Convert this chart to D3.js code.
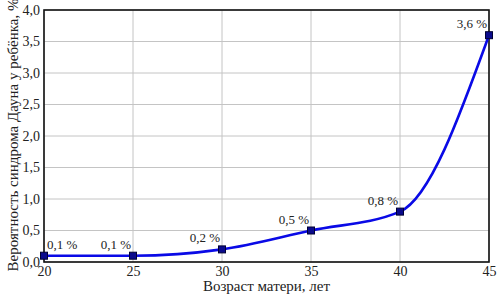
<!DOCTYPE html>
<html>
<head>
<meta charset="UTF-8" />
<script src="https://d3js.org/d3.v7.min.js"></script>
<style>
  body { margin: 0; background: #fff; }
</style>
</head>
<body>
<svg id="chart" width="500" height="297"></svg>
<script>
// data
const ages = [20, 25, 30, 35, 40, 45]
const risk = [0.1, 0.1, 0.2, 0.5, 0.8, 3.6]
const xTicks = [20, 25, 30, 35, 40, 45]
const yTicks = [0, 0.5, 1, 1.5, 2, 2.5, 3, 3.5, 4]

const fmt = v => d3.format(".1f")(v).replace(".", ",")
const serif = "Liberation Serif"

const svg = d3.select("#chart")
const mLeft = 44, mRight = 489, mTop = 10, mBottom = 262

const x = d3.scaleLinear().domain([20, 45]).range([mLeft, mRight])
const y = d3.scaleLinear().domain([0, 4]).range([mBottom, mTop])

// grid
svg.append("g").selectAll("line").data(xTicks).join("line")
  .attr("x1", d => x(d)).attr("x2", d => x(d))
  .attr("y1", mTop).attr("y2", mBottom)
  .attr("stroke", "#c4c4c4").attr("stroke-width", 1)
svg.append("g").selectAll("line").data(yTicks).join("line")
  .attr("x1", mLeft).attr("x2", mRight)
  .attr("y1", d => y(d)).attr("y2", d => y(d))
  .attr("stroke", "#c4c4c4").attr("stroke-width", 1)

// axes
const xAxis = svg.append("g").attr("transform", `translate(0,${mBottom})`)
  .call(d3.axisBottom(x).tickValues(xTicks).tickSize(0).tickPadding(4).tickFormat(d3.format("d")))
const yAxis = svg.append("g").attr("transform", `translate(${mLeft},0)`)
  .call(d3.axisLeft(y).tickValues(yTicks).tickSize(0).tickPadding(4).tickFormat(fmt))
xAxis.select(".domain").remove()
yAxis.select(".domain").remove()
xAxis.attr("font-family", serif).attr("font-size", 14)
yAxis.attr("font-family", serif).attr("font-size", 14)
svg.selectAll(".tick text").attr("fill", "#222")

// frame
svg.append("rect").attr("x", mLeft).attr("y", mTop)
  .attr("width", mRight - mLeft).attr("height", mBottom - mTop)
  .attr("fill", "none").attr("stroke", "#111").attr("stroke-width", 1.6)

// curve
const line = d3.line().x((d, i) => x(ages[i])).y(d => y(d)).curve(d3.curveMonotoneX)
svg.append("path").datum(risk).attr("d", line)
  .attr("fill", "none").attr("stroke", "#0a0ae6").attr("stroke-width", 2.6)

// markers
svg.append("g").selectAll("rect").data(risk).join("rect")
  .attr("x", (d, i) => x(ages[i]) - 3.5).attr("y", d => y(d) - 3.5)
  .attr("width", 7).attr("height", 7)
  .attr("fill", "#0a0a8c").attr("stroke", "#000033").attr("stroke-width", 1)

// value labels
svg.append("g").selectAll("text").data(risk).join("text")
  .attr("x", (d, i) => i == 0 ? x(ages[i]) + 3 : x(ages[i]) - 2)
  .attr("y", d => y(d) - 7)
  .attr("text-anchor", (d, i) => i == 0 ? "start" : "end")
  .attr("font-family", serif).attr("font-size", 13).attr("fill", "#222")
  .text(d => fmt(d) + " %")

// titles
svg.append("text").attr("x", (mLeft + mRight) / 2).attr("y", 291)
  .attr("text-anchor", "middle")
  .attr("font-family", serif).attr("font-size", 15).attr("fill", "#222")
  .text("Возраст матери, лет")
svg.append("text")
  .attr("transform", `translate(18,${(mTop + mBottom) / 2 - 1}) rotate(-90)`)
  .attr("text-anchor", "middle")
  .attr("font-family", serif).attr("font-size", 15).attr("fill", "#222")
  .text("Вероятность синдрома Дауна у ребёнка, %")
</script>
</body>
</html>
